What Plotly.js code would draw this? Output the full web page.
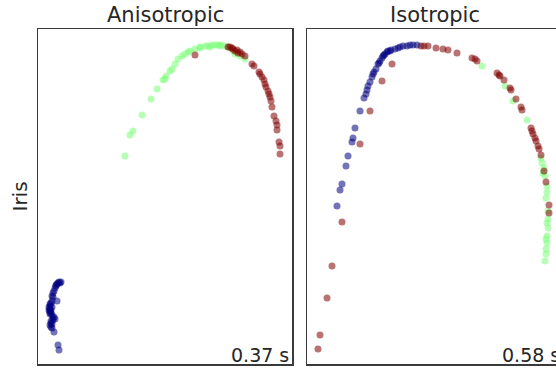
<!DOCTYPE html>
<html><head><meta charset="utf-8">
<script src="https://cdn.plot.ly/plotly-3.0.1.min.js"></script>
<style>body{margin:0;background:#fff}#c{width:556px;height:370px}</style>
</head><body><div id="c"></div>
<script>
// Anisotropic panel
const anisoBlueX = [23,21,20,19,18,17,16,15,14,15,19,14,13,12,12,11,12,11,12,13,12,14,15,17,16,13,13,12,13,14,16,20,21,14,13,12,15,14,22,18];
const anisoBlueY = [82,82,81,80,78,76,73,71,68,67,63,63,61,60,58,57,55,54,53,51,50,49,46,45,47,43,41,39,37,36,32,19,14,57,54,52,44,40,81,79];
const anisoGreenX = [87,92,95,104,113,119,125,128,127,132,134,137,140,144,147,152,157,162,167,170,174,177,180,183,187,190,194,197,202,207,162,172,182,150];
const anisoGreenY = [208,229,233,249,265,275,284,288,285,293,295,300,305,308,310,313,315,316,318,318,319,319,319,319,318,317,314,310,308,305,317,317,318,312];
const anisoRedX = [157,190,192,194,197,199,202,204,207,214,216,221,222,226,227,230,232,233,234,236,238,239,239,241,242,242,195,200,224,228,231];
const anisoRedY = [309,317,317,316,313,314,312,310,308,300,298,292,290,284,280,273,267,263,257,248,243,239,234,222,218,210,315,311,287,277,270];
// Isotropic panel
const isoBlueX = [33,35,39,41,45,46,48,53,57,59,60,61,63,65,66,69,71,73,75,76,78,80,81,84,88,91,96,100,106,110,30,67,72,77,83,93,103];
const isoBlueY = [174,180,198,208,222,226,236,253,266,270,274,278,282,287,290,295,300,303,306,308,310,312,313,314,315,316,318,318,319,319,158,292,301,309,313,317,319];
const isoGreenX = [175,198,206,220,234,237,238,240,240,239,241,241,240,240,239,239,238,235,241,240,239,236];
const isoGreenY = [298,278,263,244,206,196,188,178,172,166,145,136,128,121,115,110,103,201,153,141,125,191];
const isoRedX = [85,75,63,53,114,117,35,25,20,13,11,121,129,136,141,150,165,168,170,190,192,197,203,204,209,214,215,224,225,226,228,231,232,234,237,239,242,242,193,229];
const isoRedY = [300,283,253,220,318,318,142,98,66,29,15,318,316,315,314,311,306,305,303,291,289,284,276,274,265,257,254,236,233,230,226,218,215,209,193,182,159,151,288,223];

const panelTitles = ["Anisotropic", "Isotropic"];
const rowLabel = "Iris";
const timings = ["0.37 s", "0.58 s"];

const COLORS = {blue: "rgb(0,0,128)", green: "rgb(124,255,121)", red: "rgb(128,0,0)"};
function tr(x, y, col, xa, ya) {
  return {type: "scatter", mode: "markers", x: x, y: y, xaxis: xa, yaxis: ya,
    marker: {size: 7, color: COLORS[col], opacity: 0.55, line: {width: 0}},
    hoverinfo: "skip", showlegend: false};
}
const data = [
  tr(anisoGreenX, anisoGreenY, "green", "x", "y"),
  tr(anisoRedX, anisoRedY, "red", "x", "y"),
  tr(anisoBlueX, anisoBlueY, "blue", "x", "y"),
  tr(isoGreenX, isoGreenY, "green", "x2", "y2"),
  tr(isoRedX, isoRedY, "red", "x2", "y2"),
  tr(isoBlueX, isoBlueY, "blue", "x2", "y2")
];
const ax = {showgrid: false, zeroline: false, showticklabels: false, ticks: "", fixedrange: true,
  showline: true, linecolor: "#3a3a3a", linewidth: 1.5};
const font = {family: "DejaVu Sans, sans-serif", color: "#262626"};
const layout = {
  width: 556, height: 370, margin: {l: 38, r: 0, t: 29, b: 6},
  paper_bgcolor: "#fff", plot_bgcolor: "#fff", font: font,
  xaxis: Object.assign({}, ax, {domain: [0, 254/518], range: [0, 254], mirror: true}),
  yaxis: Object.assign({}, ax, {domain: [0, 1], range: [0, 335], mirror: true}),
  xaxis2: Object.assign({}, ax, {domain: [269/518, 1], range: [0, 249], mirror: true, anchor: "y2"}),
  yaxis2: Object.assign({}, ax, {domain: [0, 1], range: [0, 335], mirror: false, anchor: "x2"}),
  annotations: [
    {text: panelTitles[0], xref: "x domain", yref: "paper", x: 0.5, xanchor: "center", y: 1, yanchor: "bottom", showarrow: false, font: {size: 21}},
    {text: panelTitles[1], xref: "paper", yref: "paper", x: (307 + 127.5 - 38)/518, xanchor: "center", y: 1, yanchor: "bottom", showarrow: false, font: {size: 21}},
    {text: rowLabel, xref: "paper", yref: "paper", x: 0, xanchor: "center", yanchor: "middle", xshift: -19, y: 0.5, textangle: -90, showarrow: false, font: {size: 20}},
    {text: timings[0], xref: "x domain", yref: "y domain", x: 1, y: 0, xanchor: "right", yanchor: "bottom", xshift: -1, yshift: -4, showarrow: false, font: {size: 19}},
    {text: timings[1], xref: "paper", yref: "paper", x: (307 + 251 - 38)/518, y: 0, xanchor: "right", yanchor: "bottom", xshift: 4, yshift: -4, showarrow: false, font: {size: 19}}
  ]
};
Plotly.newPlot("c", data, layout, {staticPlot: true, displayModeBar: false});
</script></body></html>
